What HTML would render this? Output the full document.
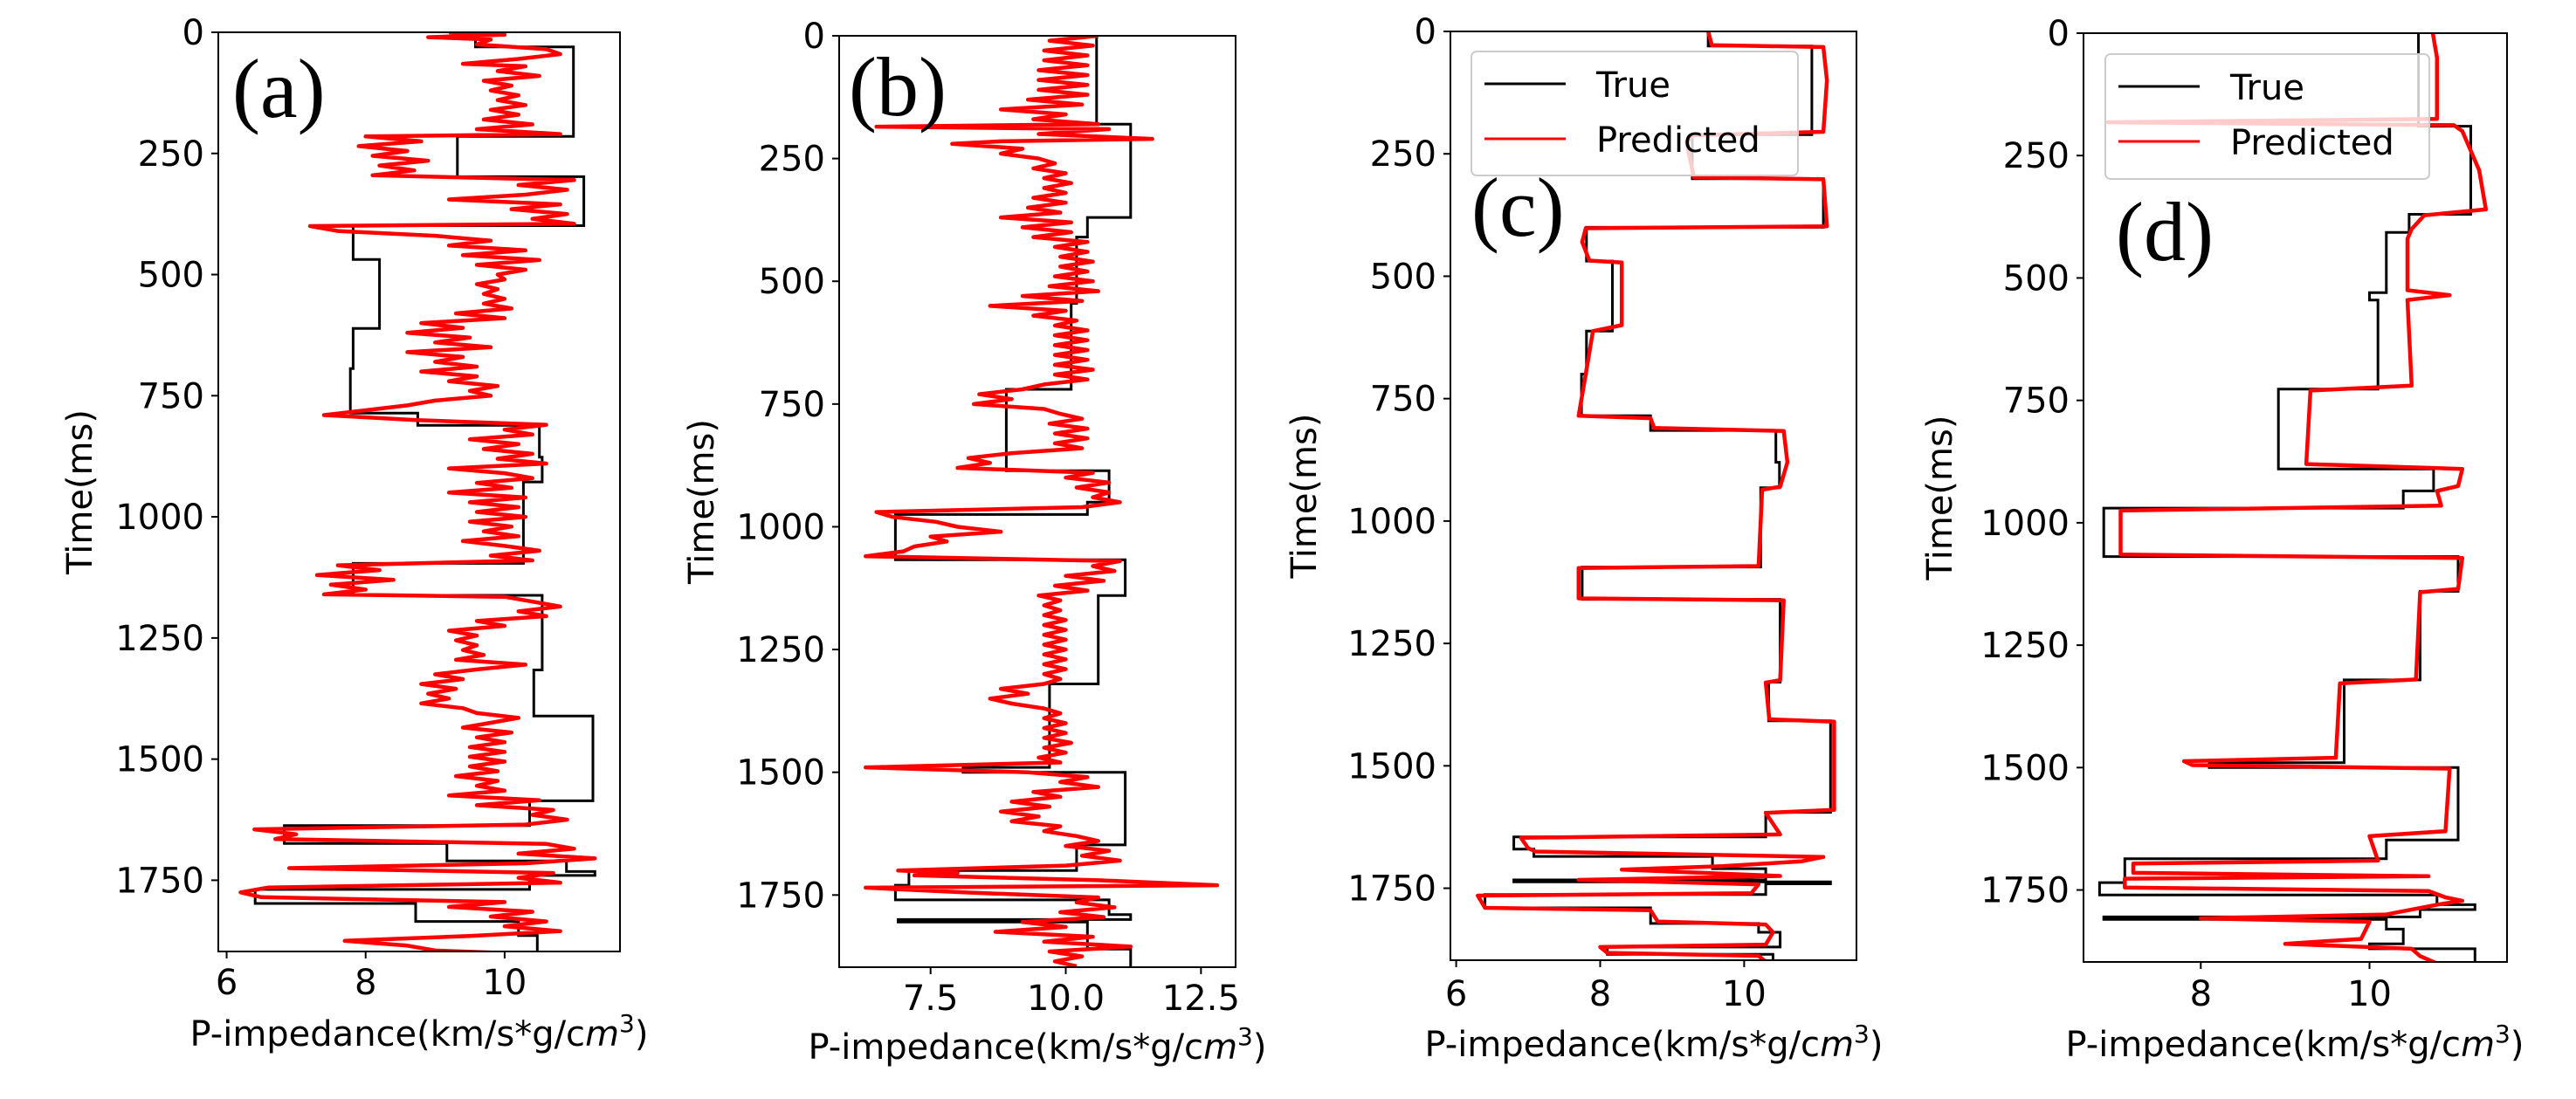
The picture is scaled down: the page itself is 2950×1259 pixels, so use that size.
<!DOCTYPE html>
<html><head><meta charset="utf-8"><style>
html,body{margin:0;padding:0;background:#fff;}
svg{display:block;}
text{font-family:"DejaVu Sans","Liberation Sans",sans-serif;fill:#000;}
.lab{font-family:"Liberation Serif",serif;}
</style></head>
<body>
<svg id="fig" xmlns="http://www.w3.org/2000/svg" width="2950" height="1259" viewBox="0 0 2950 1259"></svg>
<script>
// ---------- DATA ----------
const yTicks = [0,250,500,750,1000,1250,1500,1750];
const yTickLabels = ["0","250","500","750","1000","1250","1500","1750"];

const aXTicks = [6,8,10];
const aXTickLabels = ["6","8","10"];
const bXTicks = [7.5,10,12.5];
const bXTickLabels = ["7.5","10.0","12.5"];
const cXTicks = [6,8,10];
const cXTickLabels = ["6","8","10"];
const dXTicks = [8,10];
const dXTickLabels = ["8","10"];

// True (step) curves: layer top times and values
const aTrueT = [0,30,215,298,399,469,611,694,786,811,877,928,1096,1162,1316,1411,1586,1637,1674,1710,1732,1740,1769,1798,1835,1864,1900];
const aTrueV = [9.58,10.99,9.32,11.14,7.82,8.2,7.82,7.78,8.75,10.5,10.54,10.27,7.82,10.54,10.42,11.27,10.36,6.83,9.17,10.89,11.3,10.36,6.41,8.72,10.2,10.47];

const bTrueT = [0,180,370,410,545,720,886,950,975,1067,1140,1320,1490,1500,1648,1700,1730,1760,1790,1800,1805,1860,1900];
const bTrueV = [10.57,11.2,10.4,10.2,10.1,8.9,10.8,10.4,6.85,11.1,10.6,9.7,8.1,11.1,10.2,7.1,6.85,10.8,11.2,6.9,10.4,11.2];

const cTrueT = [0,30,211,301,400,469,612,700,785,815,880,932,1094,1160,1329,1408,1595,1645,1670,1685,1710,1733,1737,1741,1763,1790,1822,1840,1870,1885,1900];
const cTrueV = [9.5,10.94,9.28,11.1,7.81,8.17,7.81,7.74,8.7,10.44,10.49,10.23,7.75,10.5,10.34,11.2,10.3,6.8,7.08,9.56,10.3,6.8,11.2,10.3,6.4,8.7,10.2,10.5,8.1,10.4];

const dTrueT = [0,190,370,407,530,545,727,890,935,970,1069,1140,1321,1490,1500,1648,1686,1735,1760,1780,1790,1805,1810,1830,1860,1870,1900];
const dTrueV = [10.58,11.2,10.47,10.2,10.0,10.1,8.92,10.76,10.4,6.85,11.05,10.6,9.7,8.1,11.05,10.2,7.1,6.8,10.8,11.25,10.6,6.85,10.2,10.4,10.0,11.25];

// Predicted curves: [time, value]
const aPred = [[0,9.2],[5,10.0],[10,8.9],[15,9.8],[25,9.6],[35,10.6],[45,10.8],[55,10.2],[65,9.4],[70,10.3],[80,9.9],[90,10.5],[100,9.7],[110,10.1],[120,9.8],[130,10.2],[140,9.9],[150,10.3],[160,9.8],[170,10.2],[180,9.7],[190,10.4],[200,9.6],[210,10.8],[215,8.0],[225,8.8],[235,7.9],[245,8.6],[255,8.1],[265,8.9],[275,8.2],[285,8.7],[295,8.1],[305,11.0],[315,10.2],[325,10.9],[335,10.3],[345,9.2],[355,10.8],[365,10.1],[375,10.9],[385,10.4],[395,11.0],[400,7.2],[410,7.6],[420,9.0],[430,9.8],[440,9.2],[450,10.3],[460,9.4],[470,10.5],[480,9.6],[490,10.3],[500,9.9],[510,10.0],[520,9.6],[530,9.9],[540,9.7],[550,10.0],[560,9.7],[570,10.1],[580,9.3],[590,10.0],[600,8.8],[610,9.4],[620,8.6],[630,9.5],[640,9.0],[650,9.8],[660,8.6],[670,9.4],[680,9.0],[690,9.6],[700,8.8],[710,9.6],[720,9.2],[730,9.9],[740,9.5],[750,9.8],[760,9.0],[770,8.6],[780,8.0],[790,7.4],[800,8.7],[810,10.6],[820,10.0],[830,10.4],[840,9.5],[850,10.2],[860,9.7],[870,10.4],[880,9.9],[890,10.6],[900,9.2],[910,10.0],[920,10.4],[930,9.6],[940,10.1],[950,9.2],[960,10.3],[970,9.5],[980,10.2],[990,9.6],[1000,10.3],[1010,9.5],[1020,10.1],[1030,9.7],[1040,10.2],[1050,9.4],[1060,10.0],[1070,10.5],[1080,9.8],[1090,10.4],[1100,7.6],[1110,8.2],[1120,7.3],[1130,8.4],[1140,7.5],[1150,8.0],[1160,7.4],[1165,10.0],[1175,10.4],[1185,10.8],[1195,10.2],[1205,10.6],[1215,9.6],[1225,10.0],[1235,9.2],[1245,9.6],[1255,9.3],[1265,9.6],[1275,9.4],[1285,9.7],[1295,9.3],[1305,10.3],[1315,9.6],[1325,9.0],[1335,9.4],[1345,8.8],[1355,9.3],[1365,8.9],[1375,9.2],[1385,8.8],[1395,9.4],[1405,9.6],[1415,10.2],[1425,9.8],[1435,9.4],[1445,10.1],[1455,9.6],[1465,10.0],[1475,9.5],[1485,10.0],[1495,9.5],[1505,10.0],[1515,9.5],[1525,9.9],[1535,9.3],[1545,9.9],[1555,9.6],[1565,10.0],[1575,9.2],[1585,10.5],[1595,9.6],[1605,10.7],[1615,10.4],[1625,10.9],[1635,10.3],[1645,6.4],[1655,7.0],[1665,6.7],[1675,10.6],[1685,11.0],[1695,10.2],[1705,11.3],[1715,10.3],[1725,6.9],[1735,10.7],[1745,10.2],[1755,10.8],[1765,6.6],[1775,6.2],[1785,6.5],[1795,10.0],[1805,9.2],[1815,10.4],[1825,9.8],[1835,10.6],[1845,10.0],[1855,10.8],[1865,9.5],[1875,7.7],[1885,8.6],[1895,9.0],[1900,10.0]];

const bPred = [[0,10.6],[10,9.7],[20,10.5],[30,9.6],[40,10.4],[50,9.6],[60,10.4],[70,9.5],[80,10.4],[90,9.5],[100,10.4],[110,9.5],[120,10.4],[130,9.3],[140,10.3],[150,8.8],[160,10.0],[170,9.4],[180,10.6],[185,6.5],[190,10.8],[200,9.5],[210,11.6],[215,8.8],[220,7.9],[230,9.2],[240,8.8],[250,9.5],[260,9.8],[270,9.4],[280,10.0],[290,9.6],[300,10.1],[310,9.6],[320,10.0],[330,9.4],[340,10.0],[350,9.3],[360,9.9],[370,8.8],[380,10.1],[390,9.2],[400,10.1],[410,9.4],[420,10.4],[430,9.8],[440,10.4],[450,9.9],[460,10.5],[470,9.9],[480,10.4],[490,9.8],[500,10.5],[510,9.7],[520,10.6],[530,9.2],[540,10.3],[550,8.6],[560,10.0],[570,9.4],[580,10.2],[590,9.8],[600,10.4],[610,9.8],[620,10.4],[630,9.8],[640,10.4],[650,9.8],[660,10.4],[670,9.8],[680,10.5],[690,9.8],[700,10.4],[710,9.6],[720,9.2],[730,8.4],[740,9.0],[750,8.3],[760,9.6],[770,9.9],[780,10.3],[790,9.7],[800,10.4],[810,9.8],[820,10.4],[830,9.8],[840,10.3],[850,9.0],[860,8.2],[870,8.6],[880,8.0],[890,10.5],[900,10.0],[910,10.8],[920,10.2],[930,10.8],[940,10.5],[950,11.0],[960,10.3],[970,6.5],[980,6.8],[990,7.6],[1000,8.0],[1010,8.8],[1020,7.5],[1030,7.8],[1040,7.2],[1050,7.0],[1060,6.3],[1070,11.0],[1080,10.5],[1090,10.9],[1100,10.0],[1110,10.7],[1120,9.8],[1130,10.4],[1140,9.5],[1150,9.9],[1160,9.6],[1170,9.9],[1180,9.6],[1190,10.0],[1200,9.6],[1210,10.0],[1220,9.6],[1230,10.0],[1240,9.6],[1250,10.0],[1260,9.6],[1270,10.0],[1280,9.6],[1290,10.0],[1300,9.6],[1310,9.9],[1320,9.6],[1330,8.8],[1340,9.3],[1350,8.6],[1360,9.0],[1370,9.6],[1380,9.9],[1390,9.6],[1400,10.0],[1410,9.6],[1420,10.0],[1430,9.6],[1440,10.1],[1450,9.6],[1460,10.0],[1470,9.5],[1480,9.9],[1490,6.3],[1500,9.3],[1510,10.4],[1520,9.9],[1530,10.6],[1540,9.4],[1550,9.9],[1560,9.0],[1570,9.7],[1580,8.8],[1590,9.5],[1600,9.0],[1610,9.9],[1620,9.6],[1630,10.2],[1640,10.6],[1650,10.0],[1660,10.8],[1670,10.3],[1680,11.0],[1690,10.0],[1700,6.9],[1705,8.0],[1710,7.2],[1720,10.6],[1730,12.8],[1735,6.3],[1745,8.2],[1755,10.6],[1765,10.2],[1775,10.9],[1785,9.9],[1795,10.7],[1805,9.2],[1815,10.0],[1825,8.7],[1835,10.5],[1845,9.6],[1855,11.2],[1865,9.7],[1875,10.3],[1885,9.8],[1895,10.2]];

const cPred = [[0,9.5],[28,9.55],[32,11.1],[100,11.15],[205,11.1],[212,9.3],[225,9.2],[298,9.3],[302,11.1],[398,11.15],[402,7.8],[430,7.75],[468,7.85],[472,8.3],[600,8.3],[612,7.9],[700,7.8],[785,7.7],[790,8.7],[810,8.75],[816,10.55],[880,10.6],[930,10.5],[936,10.25],[1092,10.2],[1096,7.7],[1158,7.7],[1162,10.55],[1325,10.5],[1330,10.3],[1405,10.35],[1410,11.25],[1590,11.25],[1596,10.3],[1640,10.5],[1647,6.9],[1668,7.0],[1675,7.1],[1686,11.1],[1695,10.8],[1705,9.7],[1712,8.3],[1725,10.5],[1733,7.7],[1742,10.2],[1760,10.1],[1765,6.3],[1790,6.4],[1795,8.7],[1818,8.8],[1824,10.3],[1840,10.4],[1865,10.3],[1870,8.0],[1882,8.1],[1888,10.2],[1900,10.3]];

const dPred = [[0,10.75],[50,10.8],[175,10.8],[182,6.9],[188,11.0],[200,11.1],[280,11.3],[360,11.38],[372,10.65],[400,10.5],[420,10.45],[525,10.45],[535,10.95],[545,10.45],[720,10.5],[730,9.3],[880,9.25],[890,11.1],[925,11.05],[935,10.8],[965,10.85],[975,7.05],[1065,7.05],[1072,11.1],[1135,11.05],[1142,10.6],[1320,10.55],[1328,9.65],[1480,9.6],[1487,7.8],[1495,7.9],[1502,10.95],[1630,10.9],[1640,10.0],[1690,10.1],[1696,7.2],[1715,7.2],[1722,10.7],[1727,7.1],[1745,7.1],[1752,10.7],[1765,10.9],[1772,11.1],[1780,10.8],[1800,10.2],[1808,8.0],[1815,10.0],[1850,9.9],[1860,9.0],[1870,10.5],[1885,10.6],[1900,10.8]];

// ---------- LAYOUT ----------
const NS = "http://www.w3.org/2000/svg";
const svg = document.getElementById('fig');
const YMAX = 1897;

function mk(tag, attrs, parent){
  const e = document.createElementNS(NS, tag);
  for (const k in attrs) e.setAttribute(k, attrs[k]);
  (parent||svg).appendChild(e);
  return e;
}

const panels = [
  {id:'a', L:250, R:710, T:37, B:1090, xmin:5.88, xmax:11.66, xt:aXTicks, xtl:aXTickLabels, trueT:aTrueT, trueV:aTrueV, pred:aPred, ylx:92, xlx:480, xly:1198, tly:1139, letter:'(a)', lx:266, lyy:134, legend:null},
  {id:'b', L:961, R:1415, T:41, B:1108, xmin:5.81, xmax:13.14, xt:bXTicks, xtl:bXTickLabels, trueT:bTrueT, trueV:bTrueV, pred:bPred, ylx:804, xlx:1188, xly:1213, tly:1157, letter:'(b)', lx:972, lyy:132, legend:null},
  {id:'c', L:1661, R:2126, T:36, B:1100, xmin:5.92, xmax:11.56, xt:cXTicks, xtl:cXTickLabels, trueT:cTrueT, trueV:cTrueV, pred:cPred, ylx:1494, xlx:1894, xly:1210, tly:1152, letter:'(c)', lx:1685, lyy:270, legend:{x:1685,y:59,w:374,h:142}},
  {id:'d', L:2386, R:2871, T:38, B:1102, xmin:6.61, xmax:11.63, xt:dXTicks, xtl:dXTickLabels, trueT:dTrueT, trueV:dTrueV, pred:dPred, ylx:2222, xlx:2628, xly:1210, tly:1152, letter:'(d)', lx:2423, lyy:298, legend:{x:2411,y:62,w:371,h:143}}
];

panels.forEach(p => {
  const g = mk('g', {});
  
  
  const xs = v => p.L + (v - p.xmin) / (p.xmax - p.xmin) * (p.R - p.L);
  const ys = t => p.T + t / YMAX * (p.B - p.T);

  const clipId = 'clip-' + p.id;
  const cp = mk('clipPath', {id: clipId}, g);
  mk('rect', {x:p.L, y:p.T, width:p.R-p.L, height:p.B-p.T}, cp);

  let d = '';
  for (let i = 0; i < p.trueV.length; i++) {
    const x = xs(p.trueV[i]);
    d += (i === 0 ? 'M' : 'L') + x.toFixed(1) + ',' + ys(p.trueT[i]).toFixed(1);
    d += 'L' + x.toFixed(1) + ',' + ys(p.trueT[i+1]).toFixed(1);
  }
  const tp = mk('path', {d:d, fill:'none', stroke:'#000', 'stroke-width':3, 'clip-path':'url(#'+clipId+')'}, g);
  
  

  let d2 = '';
  p.pred.forEach((pt, i) => {
    d2 += (i === 0 ? 'M' : 'L') + xs(pt[1]).toFixed(1) + ',' + ys(pt[0]).toFixed(1);
  });
  const pp = mk('path', {d:d2, fill:'none', stroke:'#ff0000', 'stroke-width':4.5, 'stroke-linejoin':'round', 'clip-path':'url(#'+clipId+')'}, g);
  
  

  const fr = mk('rect', {x:p.L, y:p.T, width:p.R-p.L, height:p.B-p.T, fill:'none', stroke:'#000', 'stroke-width':2}, g);
  
  

  yTicks.forEach((t, i) => {
    const y = ys(t);
    const tk = mk('line', {x1:p.L-8, x2:p.L, y1:y, y2:y, stroke:'#000', 'stroke-width':2}, g);
    
    
    const tl = mk('text', {x:p.L-16, y:y+14, 'text-anchor':'end', 'font-size':40}, g);
    tl.textContent = yTickLabels[i];
    
    
  });
  p.xt.forEach((v, i) => {
    const x = xs(v);
    const tk = mk('line', {x1:x, x2:x, y1:p.B, y2:p.B+8, stroke:'#000', 'stroke-width':2}, g);
    
    
    const tl = mk('text', {x:x, y:p.tly, 'text-anchor':'middle', 'font-size':40}, g);
    tl.textContent = p.xtl[i];
    
    
  });

  const cy = (p.T + p.B) / 2;
  const yl = mk('text', {x:p.ylx, y:cy, 'text-anchor':'middle', 'font-size':40, transform:'rotate(-90 '+p.ylx+' '+cy+')', 'dominant-baseline':'central'}, g);
  yl.textContent = 'Time(ms)';
  
  

  const xl = mk('text', {x:p.xlx, y:p.xly, 'text-anchor':'middle', 'font-size':40}, g);
  
  
  xl.appendChild(document.createTextNode('P-impedance(km/s*g/c'));
  const ts1 = mk('tspan', {'font-style':'italic'}, xl);
  ts1.textContent = 'm';
  const ts2 = mk('tspan', {dy:-16, 'font-size':28}, xl);
  ts2.textContent = '3';
  const ts3 = mk('tspan', {dy:16}, xl);
  ts3.textContent = ')';

  if (p.legend) {
    const L = p.legend;
    const lg = mk('g', {}, g);
    
    
    mk('rect', {x:L.x, y:L.y, width:L.w, height:L.h, rx:6, fill:'#fff', 'fill-opacity':0.8, stroke:'#cccccc', 'stroke-width':2}, lg);
    const e1 = mk('g', {}, lg);
    
    
    mk('line', {x1:L.x+15, x2:L.x+108, y1:L.y+37, y2:L.y+37, stroke:'#000', 'stroke-width':3}, e1);
    const t1 = mk('text', {x:L.x+143, y:L.y+52, 'font-size':40}, e1);
    t1.textContent = 'True';
    const e2 = mk('g', {}, lg);
    
    
    mk('line', {x1:L.x+15, x2:L.x+108, y1:L.y+100, y2:L.y+100, stroke:'#ff0000', 'stroke-width':3}, e2);
    const t2 = mk('text', {x:L.x+143, y:L.y+115, 'font-size':40}, e2);
    t2.textContent = 'Predicted';
  }

  const lt = mk('text', {x:p.lx, y:p.lyy, 'font-size':96, 'class':'lab'}, g);
  lt.textContent = p.letter;
  
  
});
</script>
</body></html>
